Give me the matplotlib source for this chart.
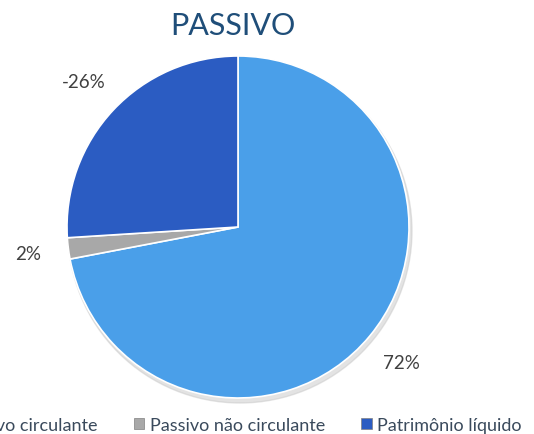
import matplotlib
matplotlib.use("Agg")
import matplotlib.pyplot as plt
import matplotlib.patches as mpatches

categorias = ["Passivo circulante", "Passivo não circulante", "Patrimônio líquido"]
valores = [72, 2, -26]
cores = ["#4a9fe9", "#a8a8a8", "#2b5cc2"]

plt.rcParams['font.family'] = ['Lato', 'DejaVu Sans']

W, H = 534, 435
fig = plt.figure(figsize=(W / 100, H / 100), dpi=100)
ax = fig.add_axes([0, 0, 1, 1])

# sombra leve
sombra = mpatches.Circle((240, H - 232), 172, color='#c8c8c8', alpha=0.5, zorder=0)
ax.add_patch(sombra)

rotulos = [f"{v}%" for v in valores]
wedges, textos = ax.pie([abs(v) for v in valores], colors=cores, startangle=90,
                        counterclock=False, center=(238, H - 228), radius=171,
                        labels=rotulos, labeldistance=1.24,
                        wedgeprops=dict(edgecolor='white', linewidth=1.2),
                        textprops=dict(fontsize=13.5, color='#404040'), frame=True)
for t in textos:
    t.set_horizontalalignment('center')
    t.set_verticalalignment('center')
ax.set_xlim(0, W)
ax.set_ylim(0, H)
ax.axis('off')

fig.text(233 / W, 1 - 26 / H, "PASSIVO", ha='center', va='center',
         fontsize=22, color='#1f4e79')

handles = [mpatches.Patch(facecolor=c, edgecolor='#808080', linewidth=0.5) for c in cores]
fig.legend(handles, categorias, loc='center right', bbox_to_anchor=(522 / W, 1 - 426 / H),
           ncol=3, frameon=False, fontsize=13, handlelength=0.6, handleheight=0.6,
           handletextpad=0.3, columnspacing=2.0, borderpad=0, borderaxespad=0,
           labelcolor='#3a4a5c')

fig.savefig("out.png", dpi=100)
